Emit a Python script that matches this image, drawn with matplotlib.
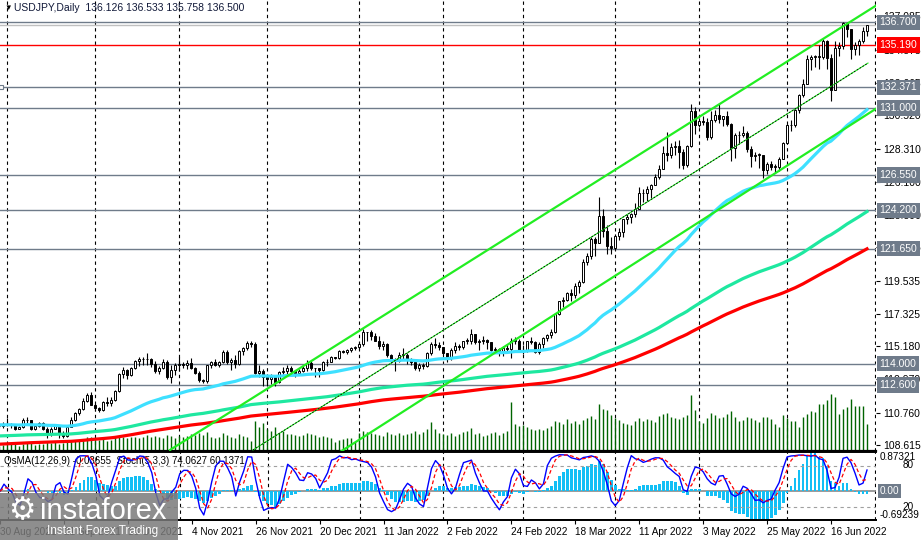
import numpy as np
import pandas as pd
import matplotlib
matplotlib.use('Agg')
import matplotlib.pyplot as plt
from matplotlib.patches import Rectangle
from matplotlib.transforms import blended_transform_factory

plt.rcParams['font.family'] = ['Liberation Sans', 'DejaVu Sans']

# daily bars, 30 Aug 2021 .. 29 Jun 2022
dates = pd.bdate_range('2021-08-30', '2022-06-29')

first_open = 109.85
closes = np.array([
    109.90, 110.00, 110.00, 109.95, 109.70, 109.80, 110.25, 110.25, 109.70, 109.90,
    110.05, 109.70, 109.35, 109.70, 109.95, 109.40, 109.20, 109.80, 110.30, 110.75,
    111.00, 111.50, 111.95, 111.30, 111.05, 110.95, 111.45, 111.40, 111.60, 112.20,
    113.30, 113.60, 113.25, 113.70, 114.20, 114.30, 114.35, 114.30, 114.00, 113.50,
    113.70, 114.15, 113.15, 113.60, 113.95, 114.00, 113.95, 114.05, 113.75, 113.40,
    112.90, 112.85, 113.90, 114.15, 113.90, 114.15, 114.80, 114.10, 114.25, 114.00,
    114.85, 115.05, 115.40, 115.35, 113.40, 113.50, 113.15, 113.00, 113.15, 112.80,
    113.45, 113.55, 113.75, 113.50, 113.40, 113.55, 113.70, 114.05, 113.70, 113.70,
    113.60, 114.10, 114.10, 114.45, 114.40, 114.85, 114.80, 114.95, 115.05, 115.10,
    115.35, 116.10, 116.10, 115.85, 115.55, 115.20, 115.30, 114.60, 114.20, 114.20,
    114.60, 114.60, 114.30, 114.10, 113.70, 113.90, 113.85, 114.70, 115.35, 115.25,
    115.10, 114.70, 114.40, 114.95, 115.20, 115.10, 115.55, 115.55, 116.00, 115.45,
    115.55, 115.60, 115.45, 114.95, 115.00, 114.75, 115.05, 115.00, 115.55, 115.55,
    114.95, 114.85, 115.50, 115.45, 114.80, 115.30, 115.70, 115.90, 116.15, 117.30,
    118.15, 118.25, 118.70, 118.60, 119.15, 119.45, 120.80, 121.15, 122.30, 122.05,
    123.85, 122.85, 121.80, 121.70, 122.50, 122.75, 123.60, 123.75, 123.95, 124.30,
    125.35, 125.35, 125.60, 125.90, 126.40, 126.95, 128.00, 127.90, 128.40, 128.50,
    128.10, 127.20, 128.45, 130.80, 129.85, 130.15, 130.10, 129.10, 130.20, 130.55,
    130.25, 130.45, 129.95, 128.35, 129.20, 129.20, 129.35, 128.25, 127.80, 127.90,
    127.90, 126.85, 127.30, 127.10, 127.10, 127.60, 128.70, 129.85, 129.90, 130.85,
    131.90, 132.60, 134.25, 134.40, 134.40, 134.40, 135.45, 134.30, 132.20, 135.00,
    135.10, 136.65, 136.25, 134.95, 135.20, 135.45, 136.126, 136.50])
highs = np.array([
    110.10, 110.15, 110.40, 110.05, 110.00, 109.90, 110.40, 110.45, 110.30, 110.00,
    110.15, 110.15, 109.80, 109.80, 110.00, 109.95, 109.55, 109.85, 110.45, 110.80,
    111.05, 111.70, 112.05, 112.10, 111.40, 111.15, 111.55, 111.80, 111.80, 112.25,
    113.40, 113.80, 113.65, 113.80, 114.25, 114.45, 114.45, 114.70, 114.40, 114.20,
    113.85, 114.30, 114.25, 113.90, 114.05, 114.45, 114.10, 114.25, 114.40, 113.80,
    113.50, 113.00, 113.95, 114.20, 114.30, 114.20, 114.95, 114.95, 114.40, 114.60,
    114.95, 115.15, 115.50, 115.50, 115.45, 113.90, 113.65, 113.30, 113.35, 113.25,
    113.55, 113.80, 113.95, 113.85, 113.55, 113.65, 113.85, 114.25, 114.25, 113.75,
    113.75, 114.20, 114.30, 114.50, 114.45, 114.90, 114.95, 115.00, 115.15, 115.20,
    115.45, 116.35, 116.15, 116.25, 116.05, 115.85, 115.55, 115.40, 114.65, 114.40,
    114.80, 115.05, 114.70, 114.40, 114.20, 114.05, 114.05, 114.80, 115.45, 115.70,
    115.45, 115.10, 114.75, 115.05, 115.45, 115.30, 115.55, 115.75, 116.30, 116.00,
    115.65, 115.85, 115.65, 115.45, 115.10, 115.05, 115.20, 115.30, 115.75, 115.80,
    115.65, 115.25, 115.55, 115.80, 115.50, 115.45, 115.80, 116.00, 116.30, 117.35,
    118.20, 118.45, 118.80, 119.00, 119.40, 119.55, 120.95, 121.40, 122.40, 122.45,
    125.10, 124.30, 123.20, 122.45, 122.60, 123.05, 123.65, 123.95, 124.05, 124.70,
    125.75, 125.65, 125.85, 125.95, 126.65, 127.20, 128.45, 129.40, 128.70, 128.80,
    128.85, 128.25, 128.55, 131.25, 131.05, 130.35, 130.45, 130.35, 130.80, 130.90,
    131.35, 130.50, 130.80, 130.00, 129.35, 129.50, 129.80, 129.50, 128.45, 128.10,
    128.00, 127.85, 127.40, 127.50, 127.30, 127.75, 128.75, 129.95, 130.20, 130.95,
    131.95, 132.95, 134.50, 134.55, 134.55, 135.20, 135.60, 135.55, 134.60, 135.45,
    135.40, 136.70, 136.70, 136.25, 135.40, 135.60, 136.40, 136.533])
lows = np.array([
    109.75, 109.75, 109.90, 109.75, 109.60, 109.65, 109.75, 110.05, 109.60, 109.60,
    109.80, 109.60, 109.10, 109.20, 109.65, 109.10, 109.10, 109.15, 109.80, 110.20,
    110.60, 110.95, 111.45, 111.25, 110.90, 110.80, 110.90, 111.20, 111.20, 111.55,
    112.10, 113.05, 113.00, 113.20, 113.65, 113.85, 113.90, 113.95, 113.80, 113.40,
    113.35, 113.65, 113.00, 112.75, 113.25, 113.55, 113.70, 113.65, 113.65, 113.30,
    112.80, 112.70, 112.75, 113.75, 113.85, 113.80, 114.05, 114.00, 113.60, 113.75,
    113.90, 114.60, 114.95, 115.15, 113.30, 113.10, 112.55, 112.55, 112.65, 112.55,
    112.75, 113.30, 113.30, 113.40, 113.10, 113.25, 113.45, 113.55, 113.60, 113.15,
    113.15, 113.55, 113.85, 114.10, 114.30, 114.35, 114.70, 114.65, 114.80, 114.95,
    115.00, 115.20, 115.55, 115.60, 115.50, 115.00, 114.95, 114.45, 114.05, 113.50,
    114.15, 114.30, 114.00, 113.95, 113.60, 113.50, 113.65, 113.80, 114.60, 115.05,
    114.90, 114.60, 114.15, 114.25, 114.75, 114.95, 115.00, 115.30, 115.30, 115.35,
    114.95, 115.35, 115.00, 114.85, 114.75, 114.55, 114.55, 114.85, 114.40, 115.35,
    114.85, 114.65, 114.80, 115.35, 114.75, 114.65, 115.05, 115.55, 115.75, 116.05,
    117.25, 117.75, 118.15, 118.20, 118.35, 118.70, 119.40, 120.60, 120.95, 121.20,
    122.05, 122.45, 121.30, 121.30, 121.55, 122.25, 122.40, 123.30, 123.35, 123.75,
    124.35, 124.75, 124.85, 125.00, 126.15, 126.30, 126.95, 127.45, 127.65, 127.85,
    127.00, 126.95, 127.05, 128.40, 129.30, 129.75, 129.90, 128.90, 128.95, 130.05,
    130.00, 129.80, 129.80, 127.50, 127.70, 128.60, 129.10, 128.10, 127.05, 127.50,
    127.00, 126.35, 126.60, 126.85, 126.75, 126.80, 127.60, 128.65, 129.50, 129.75,
    130.70, 131.75, 132.60, 133.55, 133.75, 133.60, 134.25, 133.60, 131.50, 132.20,
    134.45, 134.95, 135.75, 134.25, 134.55, 134.50, 135.30, 135.758])
volumes = np.array([
    5, 6, 7, 8, 7, 5, 7, 8, 8, 6, 7, 7, 9, 8, 9, 7, 8, 9, 10, 11,
    10, 12, 14, 14, 12, 11, 12, 10, 11, 14, 15, 14, 13, 14, 14, 13, 14, 16, 14, 15,
    14, 13, 16, 15, 13, 15, 14, 15, 17, 16, 18, 16, 19, 14, 13, 14, 18, 16, 14, 13,
    17, 15, 14, 10, 30, 24, 28, 22, 20, 24, 18, 20, 17, 17, 16, 15, 16, 18, 17, 16,
    14, 15, 14, 13, 9, 11, 12, 13, 13, 9, 18, 20, 19, 18, 17, 16, 15, 19, 17, 16,
    18, 16, 17, 18, 20, 17, 19, 22, 29, 22, 18, 17, 16, 18, 15, 17, 19, 20, 23, 17,
    18, 15, 16, 18, 19, 16, 18, 20, 49, 27, 25, 26, 24, 22, 21, 22, 21, 23, 25, 30,
    29, 27, 32, 28, 30, 27, 31, 33, 35, 32, 47, 42, 41, 36, 33, 31, 28, 27, 26, 30,
    33, 30, 32, 31, 29, 35, 37, 38, 34, 33, 32, 34, 36, 56, 41, 30, 28, 33, 38, 36,
    33, 34, 37, 40, 34, 30, 31, 34, 33, 31, 29, 34, 34, 32, 27, 24, 36, 33, 30, 30,
    24, 34, 37, 40, 39, 47, 47, 51, 57, 54, 37, 42, 44, 52, 45, 45, 45, 27])

# horizontal levels drawn on the chart
levels = [136.7, 132.371, 131.0, 126.55, 124.2, 121.65, 114.0, 112.6]
red_level = 135.19
price_ticks = [108.615, 110.760, 112.970, 115.180, 117.325, 119.535, 121.745,
               123.890, 126.100, 128.310, 130.520, 132.665, 134.875, 137.085]

# EMA values at the first visible bar
ema_start = {50: 109.95, 144: 109.2, 200: 108.65}
ema_colors = {50: '#3ee0ff', 144: '#1ee8a0', 200: '#ff0000'}

# trend channel (bar index, price)
chan_upper = [(42.75, 108.28), (219.5, 137.85)]
chan_middle = [(63.5, 108.28), (217.25, 133.99)]
chan_lower = [(85.25, 108.14), (219.5, 131.0)]

header = 'USDJPY,Daily  136.126 136.533 135.758 136.500'
sub_header = 'OsMA(12,26,9) -0.03655  Stoch(5,3,3) 74.0627 60.1371'
osma_max_label, osma_min_label = '0.87321', '-0.69239'


def ema(values, period, start):
    alpha = 2.0 / (period + 1)
    out = np.empty(len(values))
    prev = start
    for k, v in enumerate(values):
        prev = prev + alpha * (v - prev)
        out[k] = prev
    return out


idx = np.arange(len(closes))
opens = np.r_[first_open, closes[:-1]]
highs = np.maximum(highs, np.maximum(opens, closes))
lows = np.minimum(lows, np.minimum(opens, closes))

# indicators
macd = ema(closes, 12, closes[0]) - ema(closes, 26, closes[0])
signal = pd.Series(macd).rolling(9, min_periods=1).mean().values
osma = macd - signal
s_close, s_high, s_low = pd.Series(closes), pd.Series(highs), pd.Series(lows)
ll = s_low.rolling(5, min_periods=1).min()
hh = s_high.rolling(5, min_periods=1).max()
stoch_k = 100 * (s_close - ll).rolling(3, min_periods=1).sum() / (hh - ll).rolling(3, min_periods=1).sum()
stoch_d = stoch_k.rolling(3, min_periods=1).mean()

# month-start grid lines
grid_days = pd.bdate_range('2021-08-30', '2022-07-01')
month_start = [k for k in range(1, len(grid_days)) if grid_days[k].month != grid_days[k - 1].month]

W, H = 923, 540
fig = plt.figure(figsize=(W / 100, H / 100), dpi=100)
fig.patch.set_facecolor('white')
ax = fig.add_axes([0, 1 - 451 / H, 876 / W, 451 / H])
sub = fig.add_axes([0, 1 - 520.3 / H, 876 / W, 67.8 / H])
xlim = (0.25, 219.25)

# ---- main panel
ax.set_xlim(*xlim)
ax.set_ylim(108.21, 138.18)
for m in month_start:
    ax.axvline(m, color='black', lw=0.8, ls=(0, (3, 3)), zorder=1)
for lvl in levels:
    ax.axhline(lvl, color='#6f7b8a', lw=1, zorder=1.5)
ax.axhline(closes[-1], color='#c0c0c0', lw=1, zorder=1.4)
ax.axhline(red_level, color='#ff0000', lw=1, zorder=1.5)
ax.plot([0.5], [132.371], marker='s', ms=3.5, mfc='white', mec='#6f7b8a', mew=0.8, zorder=6, clip_on=False)

vol_trans = blended_transform_factory(ax.transData, ax.transAxes)
ax.vlines(idx, 0, volumes / 451, transform=vol_trans, color='#006400', lw=1.0, zorder=2)

ax.vlines(idx, lows, highs, color='black', lw=0.8, zorder=3)
up = closes >= opens
body = np.maximum(np.abs(closes - opens), 0.03)
ax.bar(idx[up], body[up], bottom=opens[up], width=0.6, color='white', edgecolor='black', lw=0.7, zorder=3.1)
ax.bar(idx[~up], body[~up], bottom=closes[~up], width=0.6, color='black', edgecolor='black', lw=0.7, zorder=3.1)

for period in (200, 144, 50):
    ax.plot(idx, ema(closes, period, ema_start[period]), color=ema_colors[period], lw=2.3, zorder=4)

for pts in (chan_upper, chan_lower):
    (x0, y0), (x1, y1) = pts
    ax.plot([x0, x1], [y0, y1], color='#22ee22', lw=1.6, zorder=5)
(x0, y0), (x1, y1) = chan_middle
ax.plot([x0, x1], [y0, y1], color='#22ee22', lw=0.8, zorder=5)
ax.plot([x0, x1], [y0, y1], color='black', lw=0.6, ls=(0, (2, 2)), zorder=5.1)

ax.set_xticks([])
ax.yaxis.tick_right()
ax.set_yticks(price_ticks)
ax.set_yticklabels([f'{t:.3f}' for t in price_ticks])
ax.tick_params(axis='y', length=3, width=0.8, labelsize=7.5, pad=2, colors='black')
for side in ('top', 'left', 'right'):
    ax.spines[side].set_visible(False)
ax.spines['bottom'].set_linewidth(1.6)

lab_trans = blended_transform_factory(ax.transAxes, ax.transData)
for lvl in levels:
    ax.text(1.004, lvl, f'{lvl:.3f}', transform=lab_trans, va='center', ha='left', fontsize=7.5,
            color='white', bbox=dict(boxstyle='square,pad=0.25', fc='#6f7b8a', ec='none'),
            clip_on=False, zorder=10)
ax.text(1.004, red_level, f'{red_level:.3f}', transform=lab_trans, va='center', ha='left', fontsize=7.5,
        color='white', bbox=dict(boxstyle='square,pad=0.25', fc='#ff0000', ec='none'),
        clip_on=False, zorder=10)

fig.text(4 / W, 1 - 8 / H, '\u25bc', fontsize=5.5, va='center', ha='left', color='black')
fig.text(14 / W, 1 - 8 / H, header, fontsize=7.5, va='center', ha='left', color='#101838')

# ---- sub panel: OsMA + Stochastic (OsMA window scaled to its own extremes)
sub.set_xlim(*xlim)
sub.set_ylim(osma.min(), osma.max())
for m in month_start:
    sub.axvline(m, color='black', lw=0.8, ls=(0, (3, 3)), zorder=1)
sub.axhline(0, color='#8a8a8a', lw=1.2, zorder=1.5)
sub.bar(idx, osma, width=0.7, color='#12bff5', zorder=2)
st = sub.twinx()
st.set_ylim(0, 100)
st.axhline(80, color='#a0a0a0', lw=0.8, ls=(0, (3, 3)))
st.axhline(20, color='#a0a0a0', lw=0.8, ls=(0, (3, 3)))
st.plot(idx, stoch_k, color='#0000ff', lw=1.0)
st.plot(idx, stoch_d, color='#ff0000', lw=0.9, ls=(0, (3, 2)))
st.set_yticks([])
sub.set_yticks([])
for a in (sub, st):
    for side in ('left', 'right'):
        a.spines[side].set_visible(False)
    a.spines['top'].set_linewidth(1.2)
    a.spines['bottom'].set_linewidth(1.4)

label_days = idx[::16]
sub.set_xticks(label_days)
sub.set_xticklabels([f'{dates[k].day} {dates[k].strftime("%b %Y")}' for k in label_days], ha='left')
sub.tick_params(axis='x', length=3, width=0.8, labelsize=7.2, pad=2)

ts = sub.transAxes
sub.text(1.004, 0.935, osma_max_label, transform=ts, va='center', ha='left', fontsize=7.2, clip_on=False)
sub.text(1.004, 0.075, osma_min_label, transform=ts, va='center', ha='left', fontsize=7.2, clip_on=False)
st_trans = blended_transform_factory(st.transAxes, st.transData)
st.text(1.03, 82, '80', transform=st_trans, va='center', ha='left', fontsize=7.2, clip_on=False)
st.text(1.03, 20, '20', transform=st_trans, va='center', ha='left', fontsize=7.2, clip_on=False)
sub.text(1.004, 0, '0.00', transform=blended_transform_factory(sub.transAxes, sub.transData),
         va='center', ha='left', fontsize=7.2, color='white',
         bbox=dict(boxstyle='square,pad=0.2', fc='#6f7b8a', ec='none'), clip_on=False, zorder=10)
sub.text(4 / 876, 0.87, sub_header, transform=ts, va='center', ha='left', fontsize=7, zorder=8)

# ---- watermark
fig.add_artist(Rectangle((0, 0), 178 / W, 47 / H, transform=fig.transFigure,
                         fc='#7a7a7a', ec='none', alpha=0.85, zorder=20))
fig.text(22 / W, 1 - 511 / H, '\u2699', family='DejaVu Sans', fontsize=22, color='white',
         ha='center', va='center', zorder=21)
fig.text(40 / W, 1 - 511 / H, 'instaforex', fontsize=21,
         color='white', ha='left', va='center', zorder=21)
fig.text(47 / W, 1 - 531 / H, 'Instant Forex Trading', fontsize=8.5,
         color='white', ha='left', va='center', zorder=21)

fig.savefig('out.png', dpi=100, facecolor='white')
